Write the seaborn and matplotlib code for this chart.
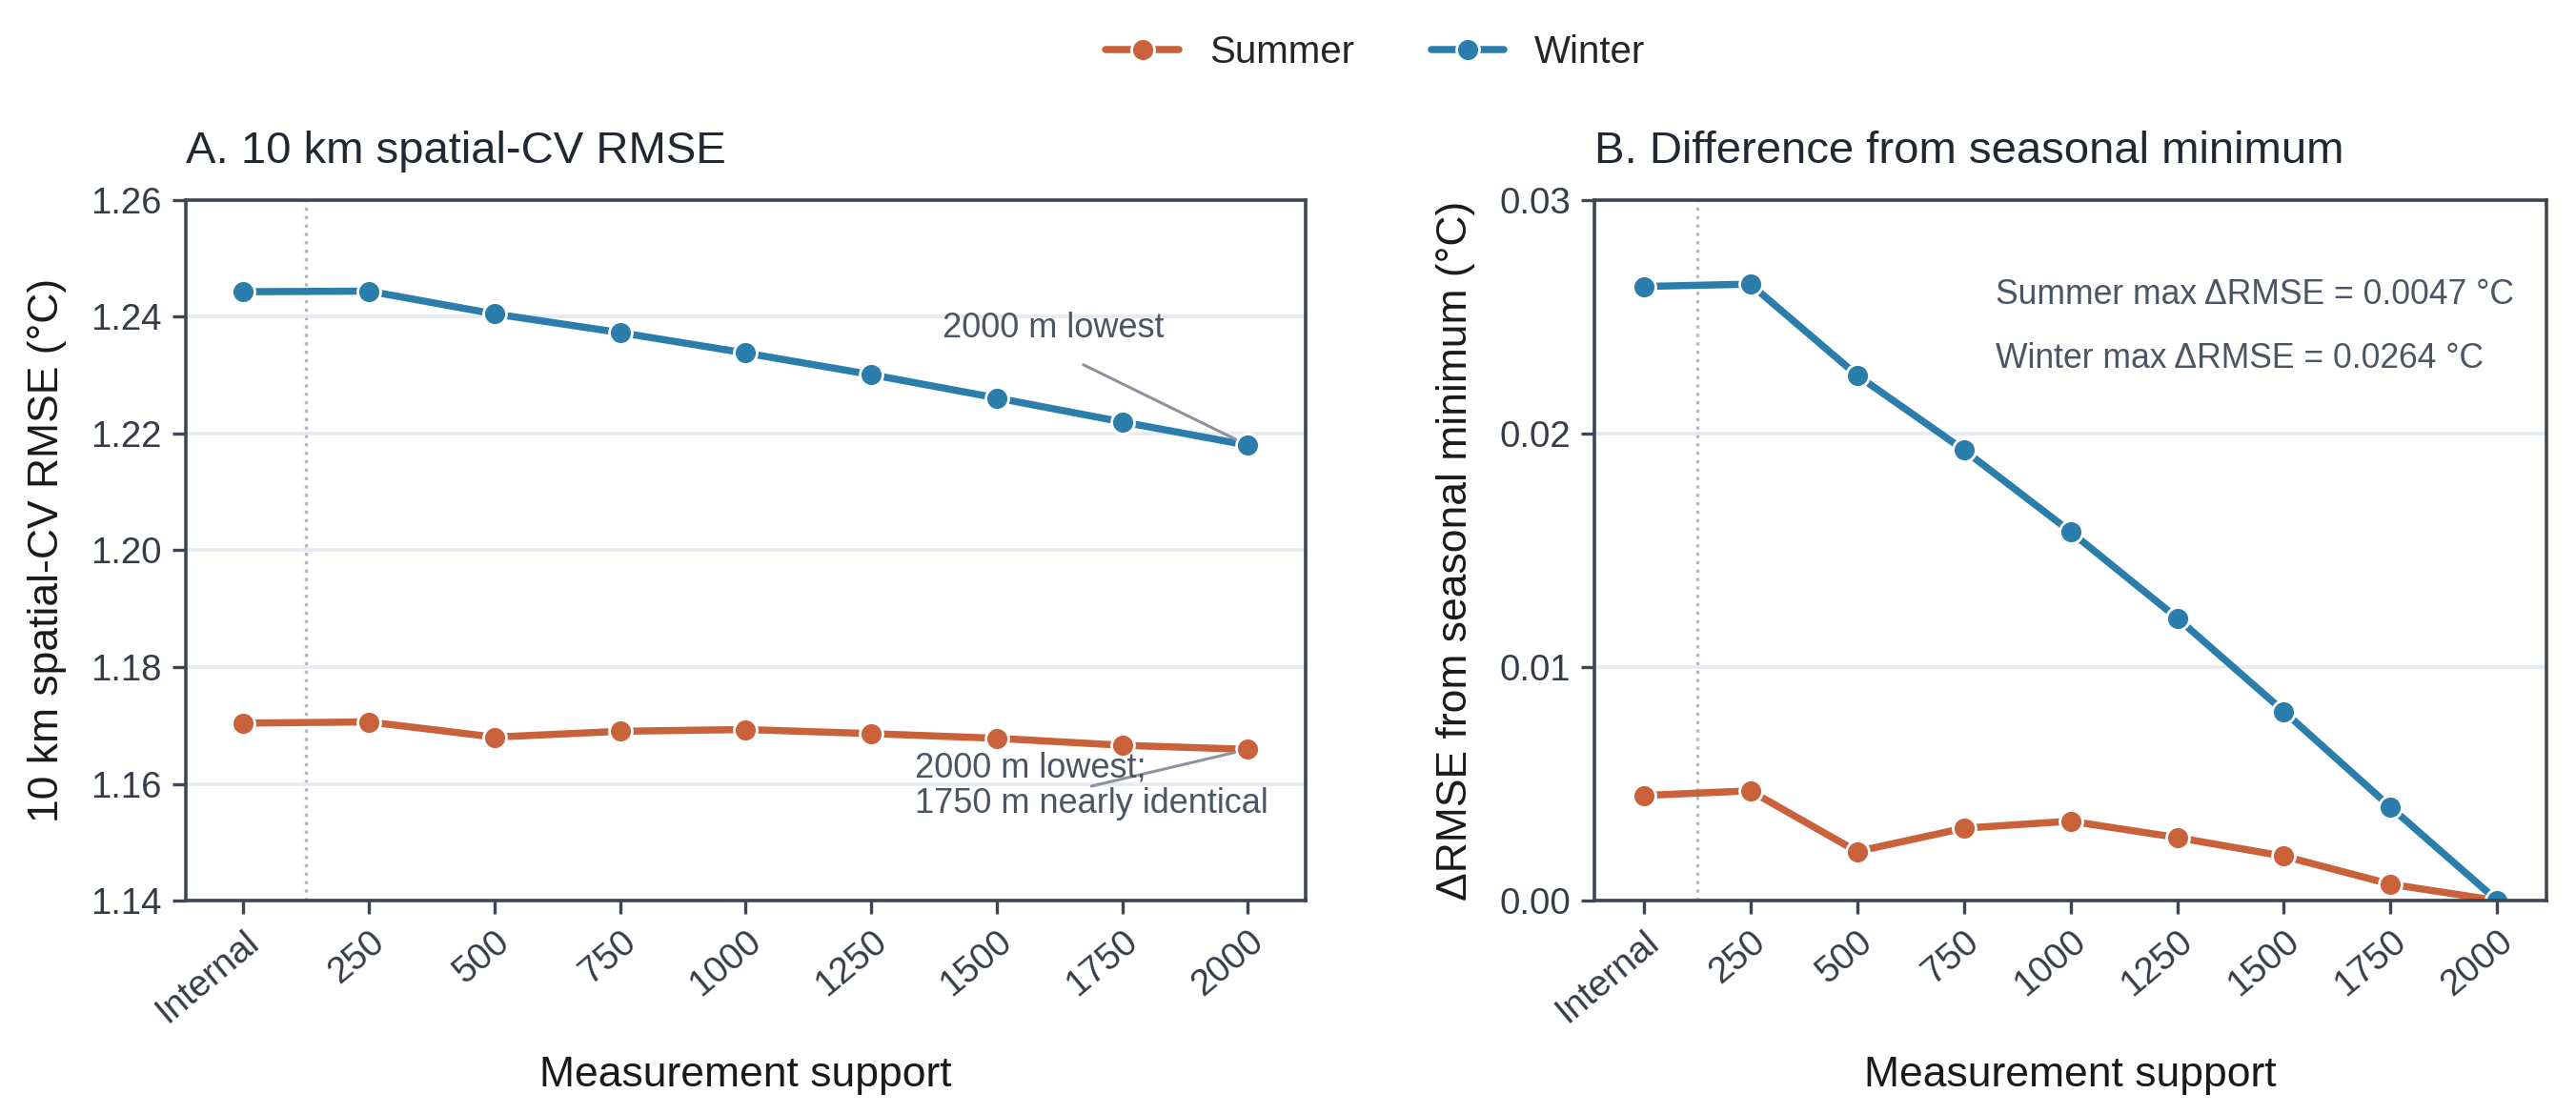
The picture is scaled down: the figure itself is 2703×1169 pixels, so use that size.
import matplotlib
matplotlib.use("Agg")
import matplotlib.pyplot as plt
import seaborn as sns
import pandas as pd
import numpy as np

# ---------------- data ----------------
supports = ["Internal", "250", "500", "750", "1000", "1250", "1500", "1750", "2000"]
seasons = ["Summer", "Winter"]
summer_rmse = [1.1704, 1.1706, 1.1680, 1.1690, 1.1693, 1.1686, 1.1678, 1.1666, 1.1659]
winter_rmse = [1.2443, 1.2444, 1.2405, 1.2373, 1.2338, 1.2301, 1.2261, 1.2220, 1.2180]
summer_delta = [0.0045, 0.0047, 0.0021, 0.0031, 0.0034, 0.0027, 0.0019, 0.0007, 0.0000]
winter_delta = [0.0263, 0.0264, 0.0225, 0.0193, 0.0158, 0.0121, 0.0081, 0.0040, 0.0000]
left_yticks = [1.14, 1.16, 1.18, 1.20, 1.22, 1.24, 1.26]
right_yticks = [0.00, 0.01, 0.02, 0.03]

df = pd.DataFrame({
    "support": supports * 2,
    "season": ["Summer"] * len(supports) + ["Winter"] * len(supports),
    "rmse": summer_rmse + winter_rmse,
    "delta": summer_delta + winter_delta,
})

palette = {"Summer": "#c9613b", "Winter": "#2b7dab"}
frame_c = "#3f4652"
text_c = "#4b5563"

sns.set_theme(style="ticks")
plt.rcParams["font.family"] = ["Liberation Sans", "DejaVu Sans"]

fig = plt.figure(figsize=(13.515, 5.845), dpi=200)
ax1 = fig.add_axes([0.0721, 0.1916, 0.4347, 0.6288])
ax2 = fig.add_axes([0.6190, 0.1916, 0.3695, 0.6288])

line_kw = dict(marker="o", markersize=8.6, markeredgecolor="white",
               markeredgewidth=1.0, linewidth=2.7, sort=False)

sns.lineplot(data=df, x="support", y="rmse", hue="season", hue_order=seasons,
             palette=palette, ax=ax1, **line_kw)
sns.lineplot(data=df, x="support", y="delta", hue="season", hue_order=seasons,
             palette=palette, ax=ax2, **line_kw)

handles, labels = ax1.get_legend_handles_labels()
for ax in (ax1, ax2):
    if ax.get_legend() is not None:
        ax.get_legend().remove()

for ax in (ax1, ax2):
    ax.set_xlim(-0.46, len(supports) - 1 + 0.46)
    ax.axvline(0.5, color="#b3b8c0", linestyle=":", linewidth=1.2, zorder=0)
    ax.yaxis.grid(True, color="#e6e9ef", linewidth=1.3, zorder=0)
    ax.xaxis.grid(False)
    ax.set_axisbelow(True)
    for sp in ax.spines.values():
        sp.set_visible(True)
        sp.set_color(frame_c)
        sp.set_linewidth(1.3)
    ax.tick_params(axis="both", direction="out", length=5, width=1.2,
                   color=frame_c, labelcolor="#363c47", labelsize=13.8, pad=4)
    ax.set_xticks(range(len(supports)))
    ax.set_xticklabels(supports, rotation=40, ha="right", rotation_mode="anchor")
    ax.set_xlabel("Measurement support", fontsize=16, color="#1a1a1a", labelpad=10)

ax1.set_ylim(left_yticks[0], left_yticks[-1])
ax1.set_yticks(left_yticks)
ax1.set_yticklabels([f"{v:.2f}" for v in left_yticks])
ax1.set_ylabel("10 km spatial-CV RMSE (°C)", fontsize=16, color="#1a1a1a", labelpad=9)
ax1.set_title("A. 10 km spatial-CV RMSE", loc="left", fontsize=17, color="#222831", pad=14)

ax2.set_ylim(right_yticks[0], right_yticks[-1])
ax2.set_yticks(right_yticks)
ax2.set_yticklabels([f"{v:.2f}" for v in right_yticks])
ax2.set_ylabel("ΔRMSE from seasonal minimum (°C)", fontsize=16, color="#1a1a1a", labelpad=9)
ax2.set_title("B. Difference from seasonal minimum", loc="left", fontsize=17, color="#222831", pad=14)

# annotations, panel A
last = len(supports) - 1
ax1.text(6.45, 1.2380, "2000 m lowest", ha="center", va="center", fontsize=13, color=text_c)
ax1.annotate("", xy=(last, winter_rmse[last]), xytext=(6.69, 1.2318),
             arrowprops=dict(arrowstyle="-", color="#8d939b", lw=1.1, shrinkA=0, shrinkB=5))
ax1.annotate("", xy=(last, summer_rmse[last]), xytext=(6.755, 1.1596),
             arrowprops=dict(arrowstyle="-", color="#8d939b", lw=1.1, shrinkA=0, shrinkB=5))
ax1.text(5.35, 1.1596, "2000 m lowest;\n1750 m nearly identical", ha="left", va="center",
         fontsize=13, color=text_c, linespacing=1.1)

# annotations, panel B
ax2.text(0.421, 0.864, f"Summer max ΔRMSE = {max(summer_delta):.4f} °C",
         transform=ax2.transAxes, ha="left", va="center", fontsize=12.8, color=text_c)
ax2.text(0.421, 0.773, f"Winter max ΔRMSE = {max(winter_delta):.4f} °C",
         transform=ax2.transAxes, ha="left", va="center", fontsize=12.8, color=text_c)

fig.legend(handles, labels, loc="center", bbox_to_anchor=(0.534, 0.953), ncol=2,
           frameon=False, fontsize=14.5, handlelength=1.9, handletextpad=0.8,
           columnspacing=2.0)

fig.savefig("out.png", dpi=200, facecolor="white")
